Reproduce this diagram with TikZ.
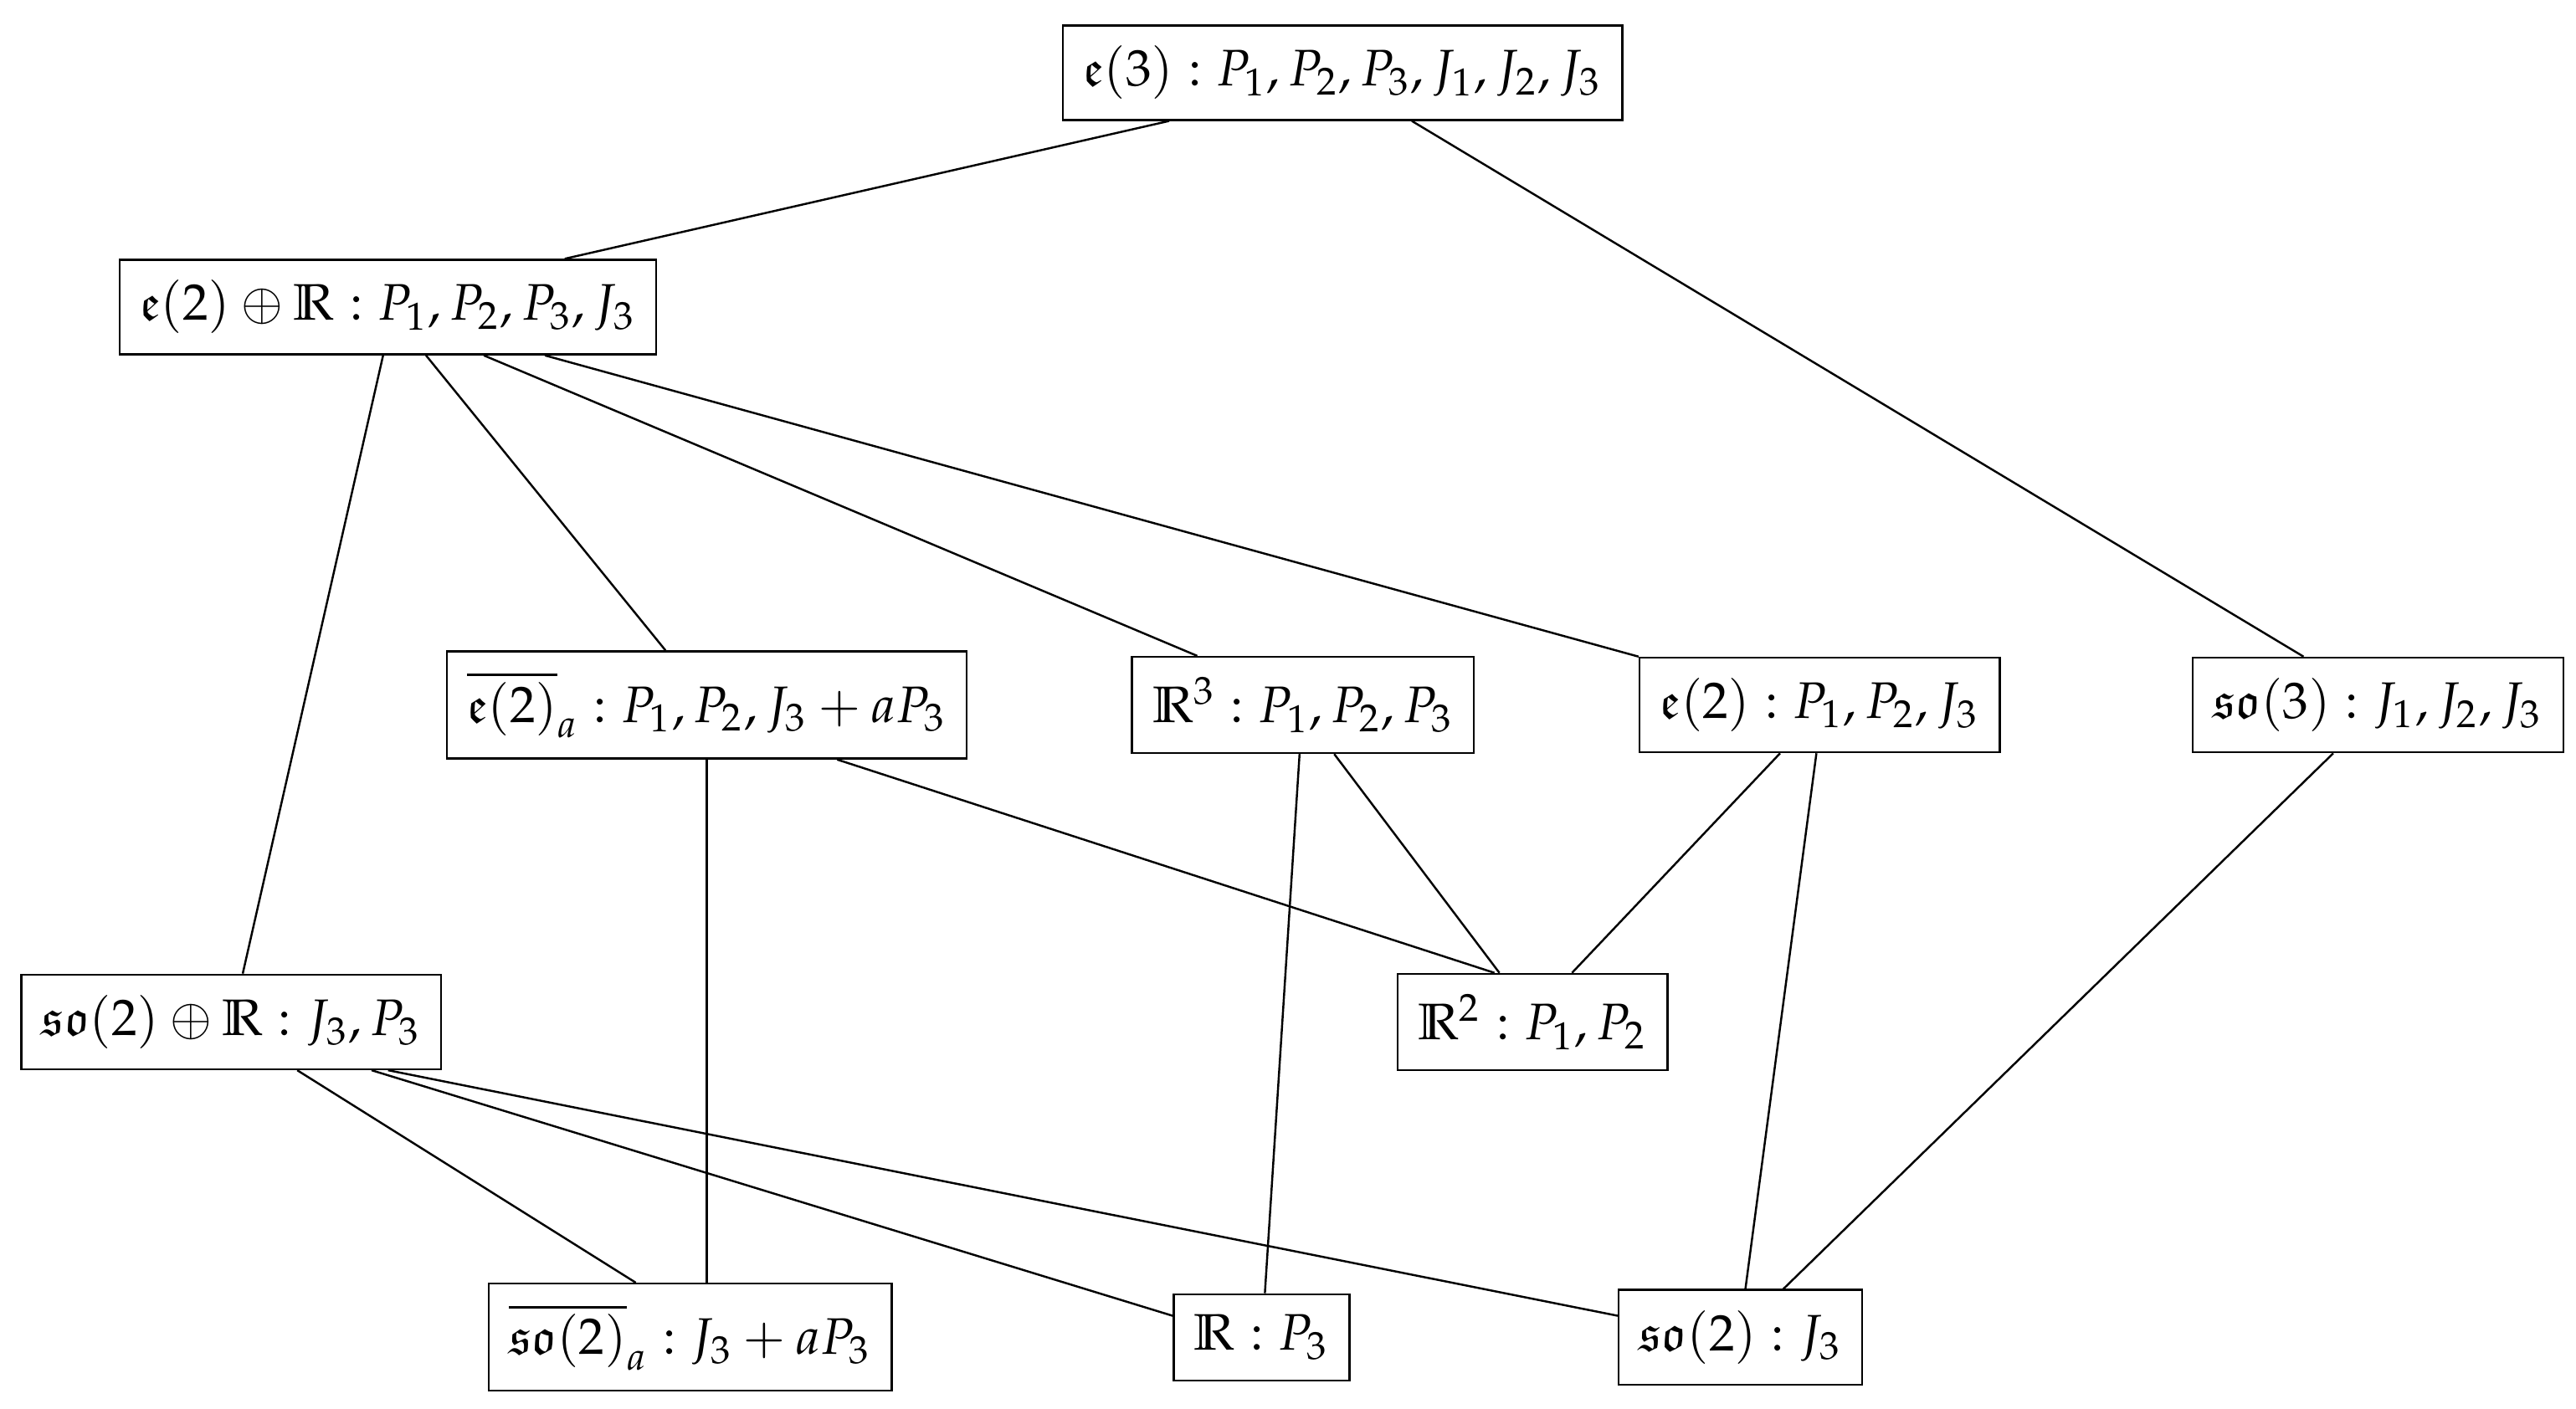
\documentclass[tikz,border=0pt]{standalone}
\usepackage{amssymb}
\usepackage{mathpazo}
\usetikzlibrary{calc}
\begin{document}
\begin{tikzpicture}[x=0.0113cm,y=-0.0113cm,
  box/.style={draw,thin,inner sep=4pt,minimum height=0.56cm},
  edge/.style={draw,thin}]
\useasboundingbox (0,0) rectangle (1560,853);
\node[box] (e3) at (813,44) {$\mathfrak{e}(3) : P_1, P_2, P_3, J_1, J_2, J_3$};
\node[box] (e2R) at (235,186) {$\mathfrak{e}(2)\oplus\mathbb{R} : P_1, P_2, P_3, J_3$};
\node[box] (e2bar) at (428,427) {$\overline{\mathfrak{e}(2)}_a : P_1, P_2, J_3 + aP_3$};
\node[box] (R3) at (789,427) {$\mathbb{R}^3 : P_1, P_2, P_3$};
\node[box] (e2) at (1102,427) {$\mathfrak{e}(2) : P_1, P_2, J_3$};
\node[box] (so3) at (1440,427) {$\mathfrak{so}(3) : J_1, J_2, J_3$};
\node[box] (so2R) at (140,619) {$\mathfrak{so}(2)\oplus\mathbb{R} : J_3, P_3$};
\node[box] (R2) at (928,619) {$\mathbb{R}^2 : P_1, P_2$};
\node[box] (so2bar) at (418,810) {$\overline{\mathfrak{so}(2)}_a : J_3 + aP_3$};
\node[box] (R) at (764,810) {$\mathbb{R} : P_3$};
\node[box] (so2) at (1054,810) {$\mathfrak{so}(2) : J_3$};
\draw[edge] ($(e3.south)+(-105,0)$) -- ($(e2R.north)+(107,0)$);
\draw[edge] ($(e3.south)+(42,0)$) -- ($(so3.north)+(-45,0)$);
\draw[edge] ($(e2R.south)+(-3,0)$) -- ($(so2R.north)+(7,0)$);
\draw[edge] ($(e2R.south)+(23,0)$) -- ($(e2bar.north)+(-25,0)$);
\draw[edge] ($(e2R.south)+(58,0)$) -- ($(R3.north)+(-64,0)$);
\draw[edge] ($(e2R.south)+(95,0)$) -- (e2.north west);
\draw[edge] (e2bar.south) -- ($(so2bar.north)+(10,0)$);
\draw[edge] ($(e2bar.south)+(79,0)$) -- ($(R2.north)+(-23,0)$);
\draw[edge] ($(R3.south)+(-2,0)$) -- ($(R.north)+(2,0)$);
\draw[edge] ($(R3.south)+(19,0)$) -- ($(R2.north)+(-20,0)$);
\draw[edge] ($(e2.south)+(-24,0)$) -- ($(R2.north)+(24,0)$);
\draw[edge] ($(e2.south)+(-2,0)$) -- ($(so2.north)+(3,0)$);
\draw[edge] ($(so3.south)+(-27,0)$) -- ($(so2.north)+(26,0)$);
\draw[edge] ($(so2R.south)+(40,0)$) -- ($(so2bar.north)+(-33,0)$);
\draw[edge] ($(so2R.south)+(85,0)$) -- ($(R.west)+(0,-13)$);
\draw[edge] ($(so2R.south)+(95,0)$) -- ($(so2.west)+(0,-13)$);
\end{tikzpicture}
\end{document}
